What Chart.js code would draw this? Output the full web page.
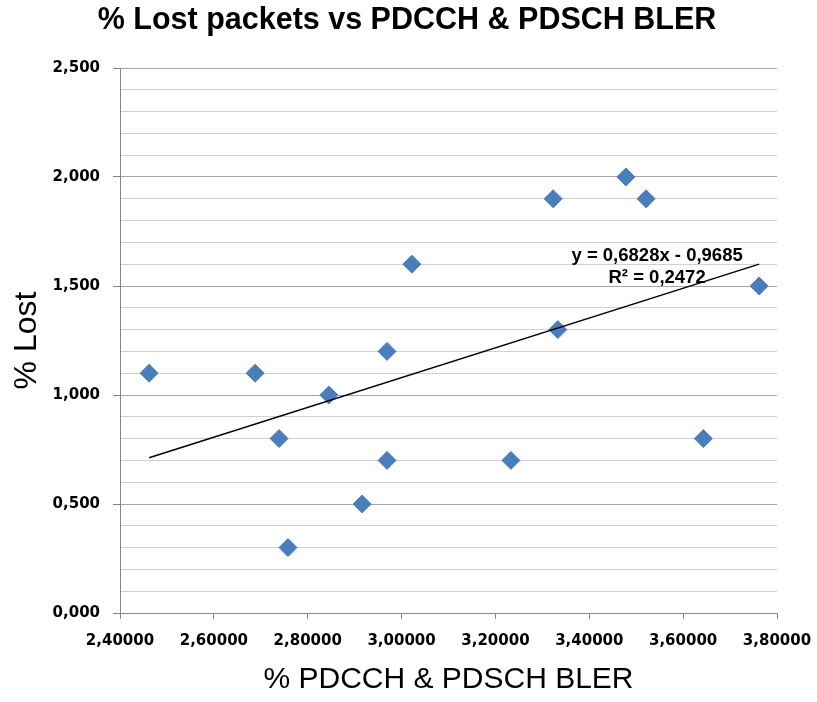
<!DOCTYPE html>
<html>
<head>
<meta charset="utf-8">
<script src="https://cdn.jsdelivr.net/npm/chart.js@4.4.1/dist/chart.umd.min.js"></script>
<style>
  html, body { margin: 0; padding: 0; background: #fff; }
  #wrap { width: 817px; height: 702px; }
</style>
</head>
<body>
<div id="wrap"><canvas id="lostChart" width="817" height="702"></canvas></div>
<script>
// values
const blerValues = [2.462, 2.688, 2.739, 2.758, 2.845, 2.916, 2.969, 2.969, 3.022, 3.233, 3.323, 3.333, 3.478, 3.521, 3.643, 3.762];
const lostValues = [1.10, 1.10, 0.80, 0.30, 1.00, 0.50, 1.20, 0.70, 1.60, 0.70, 1.90, 1.30, 2.00, 1.90, 0.80, 1.50];
const trendSlope = 0.6828;
const trendIntercept = -0.9685;
const trendLabel = ['y = 0,6828x - 0,9685', 'R\u00b2 = 0,2472'];
const chartTitle = '% Lost packets vs PDCCH & PDSCH BLER';

var pts = blerValues.map((x, i) => ({ x: x, y: lostValues[i] }));
var xMin = Math.min.apply(null, blerValues), xMax = Math.max.apply(null, blerValues);
var trendPts = [xMin, xMax].map(x => ({ x: x, y: trendSlope * x + trendIntercept }));

function isMajor(v) {
    return Math.abs(v * 2 - Math.round(v * 2)) < 1e-6;
}

// title sits a bit right of the canvas centre, so draw it by hand
// plus the equation label next to the end of the trendline
const extraText = {
    id: 'extraText',
    afterDatasetsDraw(chart) {
        const ctx = chart.ctx;
        const xs = chart.scales.x, ys = chart.scales.y;
        ctx.save();
        ctx.fillStyle = '#000';
        ctx.textAlign = 'center';
        ctx.textBaseline = 'middle';
        ctx.font = 'bold 30.5px "Liberation Sans", Arial, sans-serif';
        ctx.fillText(chartTitle, 407, 21);

        const cx = xs.getPixelForValue(3.5445);
        const cy = ys.getPixelForValue(1.64);
        ctx.font = 'bold 18.5px "Liberation Sans", Arial, sans-serif';
        ctx.fillText(trendLabel[0], cx, cy);
        ctx.fillText(trendLabel[1], cx, cy + 22);
        ctx.restore();
    }
};

const ctx = document.getElementById('lostChart');
new Chart(ctx, {
    type: 'scatter',
    data: {
        datasets: [{
            label: '% Lost',
            data: pts,
            pointStyle: 'rectRot',
            pointRadius: 9,
            pointHoverRadius: 9,
            backgroundColor: '#4a7ebb',
            borderColor: '#4a7ebb',
            borderWidth: 1,
            order: 1
        }, {
            label: 'trend',
            type: 'line',
            data: trendPts,
            borderColor: '#000',
            borderWidth: 1.5,
            pointRadius: 0,
            fill: false,
            order: 0
        }]
    },
    options: {
        responsive: false,
        animation: false,
        layout: { padding: { left: 0, right: 40, top: 68, bottom: 0 } },
        plugins: {
            legend: { display: false },
            tooltip: { enabled: false },
            title: { display: false }
        },
        scales: {
            x: {
                type: 'linear',
                min: 2.4,
                max: 3.8,
                afterFit: s => { s.height = 89; s.paddingLeft = 0; s.paddingRight = 0; },
                ticks: {
                    stepSize: 0.2,
                    color: '#000',
                    padding: 13,
                    font: { family: '"DejaVu Sans", sans-serif', size: 15, weight: 'bold' },
                    callback: v => v.toFixed(5).replace('.', ',')
                },
                grid: { drawOnChartArea: false, tickLength: 6, color: '#868686' },
                border: { color: '#868686' },
                title: {
                    display: true,
                    text: '% PDCCH & PDSCH BLER',
                    color: '#000',
                    font: { family: '"Liberation Sans", Arial, sans-serif', size: 30 },
                    padding: { top: 10 }
                }
            },
            y: {
                min: 0,
                max: 2.5,
                afterFit: s => { s.width = 120; s.paddingTop = 0; s.paddingBottom = 0; },
                ticks: {
                    stepSize: 0.1,
                    autoSkip: false,
                    color: '#000',
                    padding: 13,
                    font: { family: '"DejaVu Sans", sans-serif', size: 15, weight: 'bold' },
                    callback: v => isMajor(v) ? v.toFixed(3).replace('.', ',') : ''
                },
                grid: {
                    tickLength: 7,
                    color: c => c.tick && isMajor(c.tick.value) ? '#a6a6a6' : '#d0d0d0',
                    tickColor: c => c.tick && isMajor(c.tick.value) ? '#868686' : 'rgba(0,0,0,0)'
                },
                border: { color: '#868686' },
                title: {
                    display: true,
                    text: '% Lost',
                    color: '#000',
                    font: { family: '"Liberation Sans", Arial, sans-serif', size: 32 },
                    padding: { top: 8, bottom: 6 }
                }
            }
        }
    },
    plugins: [extraText]
});
</script>
</body>
</html>
